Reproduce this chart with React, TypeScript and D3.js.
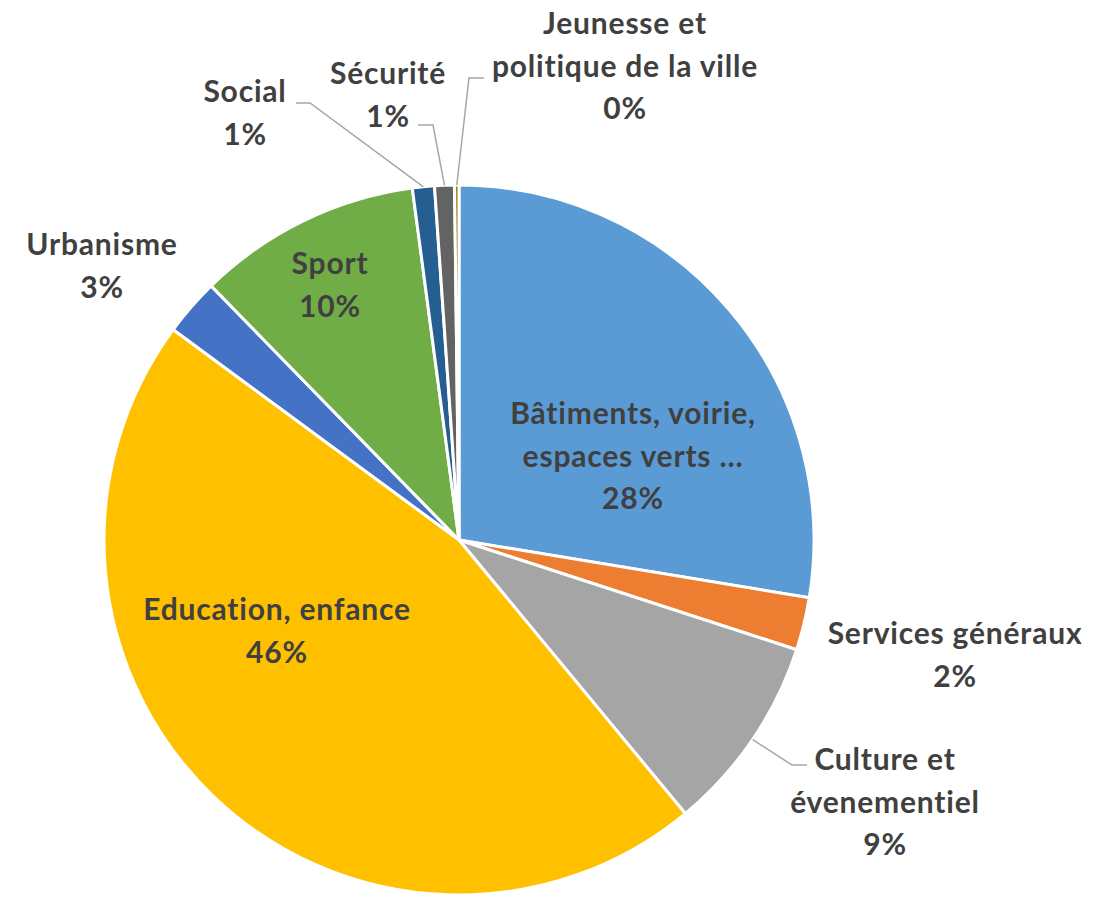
import React from "react";
import * as d3 from "d3";

const categories = [
  "Bâtiments, voirie, espaces verts …",
  "Services généraux",
  "Culture et évenementiel",
  "Education, enfance",
  "Urbanisme",
  "Sport",
  "Social",
  "Sécurité",
  "Jeunesse et politique de la ville",
];
const values = [27.6, 2.4, 9.0, 46.1, 2.6, 10.2, 1.0, 0.9, 0.2];
const colors = ["#5B9BD5", "#ED7D31", "#A5A5A5", "#FFC000", "#4472C4", "#70AD47", "#255E91", "#636363", "#997300"];
const labelLines = [
  ["Bâtiments, voirie,", "espaces verts …"],
  ["Services généraux"],
  ["Culture et", "évenementiel"],
  ["Education, enfance"],
  ["Urbanisme"],
  ["Sport"],
  ["Social"],
  ["Sécurité"],
  ["Jeunesse et", "politique de la ville"],
];

// layout (label anchors: centre x, first line centre y)
const layout = [
  { x: 633, y: 412, leader: null },
  { x: 955, y: 632, leader: null },
  { x: 885, y: 758, leader: [[807, 765], [792, 765]] },
  { x: 277, y: 608, leader: null },
  { x: 102, y: 243, leader: null },
  { x: 330, y: 262, leader: null },
  { x: 245, y: 90, leader: [[296, 103], [310, 103]] },
  { x: 388, y: 72, leader: [[418, 125], [433, 125]] },
  { x: 625, y: 22, leader: [[484, 78], [469, 78]] },
];

export default function App() {
  const W = 1094, H = 899;
  const cx = 459, cy = 540, R = 355;
  const total = d3.sum(values);
  const pie = d3.pie<number>().sort(null).value((d) => d);
  const arcs = pie(values);
  const arcGen = d3.arc<d3.PieArcDatum<number>>().innerRadius(0).outerRadius(R);
  const lh = 42.5;
  const font = "Lato, 'Open Sans', sans-serif";
  return (
    <svg width={W} height={H} style={{ position: "absolute", left: 0, top: 0 }}>
      <rect width={W} height={H} fill="#fff" />
      <g transform={`translate(${cx},${cy})`}>
        {arcs.map((a, i) => (
          <path key={i} d={arcGen(a) || ""} fill={colors[i]} stroke="#fff" strokeWidth={3} strokeLinejoin="round" />
        ))}
      </g>
      {arcs.map((a, i) => {
        const L = layout[i];
        if (!L.leader) return null;
        const mid = (a.startAngle + a.endAngle) / 2;
        const ex = cx + R * Math.sin(mid);
        const ey = cy - R * Math.cos(mid);
        const pts = [...L.leader, [ex, ey]];
        return (
          <polyline key={"l" + i} points={pts.map((p) => p.join(",")).join(" ")} fill="none" stroke="#A6A6A6" strokeWidth={1.5} />
        );
      })}
      {arcs.map((a, i) => {
        const L = layout[i];
        const pct = Math.round((values[i] / total) * 100) + "%";
        const lines = [...labelLines[i], pct];
        return (
          <text key={"t" + i} x={L.x} textAnchor="middle" fontFamily={font} fontWeight={700} fontSize={30} letterSpacing={0.8} fill="#404040">
            {lines.map((s, k) => (
              <tspan key={k} x={L.x} y={L.y + k * lh} dominantBaseline="central">
                {s}
              </tspan>
            ))}
          </text>
        );
      })}
    </svg>
  );
}
